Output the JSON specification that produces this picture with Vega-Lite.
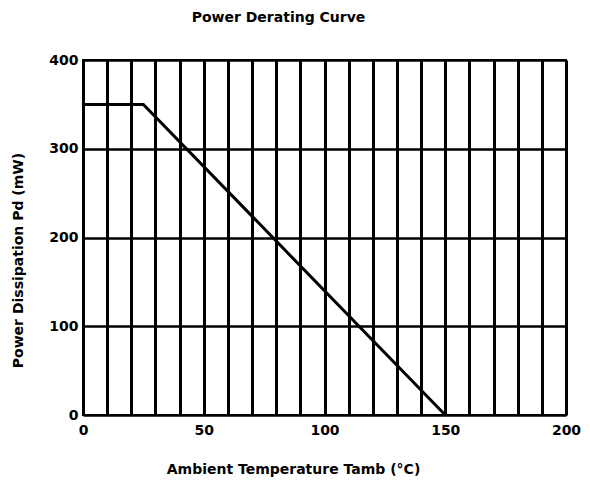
{
  "$schema": "https://vega.github.io/schema/vega-lite/v6.json",
  "width": 483,
  "height": 355,
  "autosize": {"type": "none"},
  "padding": {"left": 83, "top": 60, "right": 24, "bottom": 75},
  "background": "white",
  "title": {
    "text": "Power Derating Curve",
    "font": "DejaVu Sans",
    "fontSize": 14,
    "fontWeight": "bold",
    "color": "black",
    "anchor": "middle",
    "dx": -46,
    "offset": 28
  },
  "config": {
    "view": {"stroke": "black", "strokeWidth": 2},
    "axis": {
      "labelFont": "DejaVu Sans",
      "labelFontWeight": "bold",
      "labelFontSize": 14,
      "labelColor": "black",
      "titleFont": "DejaVu Sans",
      "titleFontWeight": "bold",
      "titleFontSize": 14,
      "titleColor": "black",
      "domain": false,
      "ticks": false,
      "gridColor": "black",
      "gridOpacity": 1
    }
  },
  "data": {
    "values": [
      {"t": 0, "p": 350},
      {"t": 25, "p": 350},
      {"t": 150, "p": 0}
    ]
  },
  "mark": {"type": "line", "color": "black", "strokeWidth": 3},
  "encoding": {
    "x": {
      "field": "t",
      "type": "quantitative",
      "scale": {"domain": [0, 200], "nice": false},
      "axis": {
        "values": [0, 10, 20, 30, 40, 50, 60, 70, 80, 90, 100, 110, 120, 130, 140, 150, 160, 170, 180, 190, 200],
        "labelExpr": "datum.value % 50 === 0 ? datum.label : ''",
        "labelPadding": 8,
        "labelFlush": false,
        "gridWidth": 3,
        "title": "Ambient Temperature  Tamb (°C)",
        "titleX": 210,
        "titleY": 54,
        "titleBaseline": "middle",
        "titleAlign": "center"
      }
    },
    "y": {
      "field": "p",
      "type": "quantitative",
      "scale": {"domain": [0, 400], "nice": false},
      "axis": {
        "values": [0, 100, 200, 300, 400],
        "labelPadding": 5,
        "labelFlush": false,
        "gridWidth": 2.5,
        "title": "Power Dissipation  Pd (mW)",
        "titleX": -65,
        "titleY": 200,
        "titleBaseline": "middle",
        "titleAlign": "center",
        "titleAngle": -90
      }
    }
  }
}
